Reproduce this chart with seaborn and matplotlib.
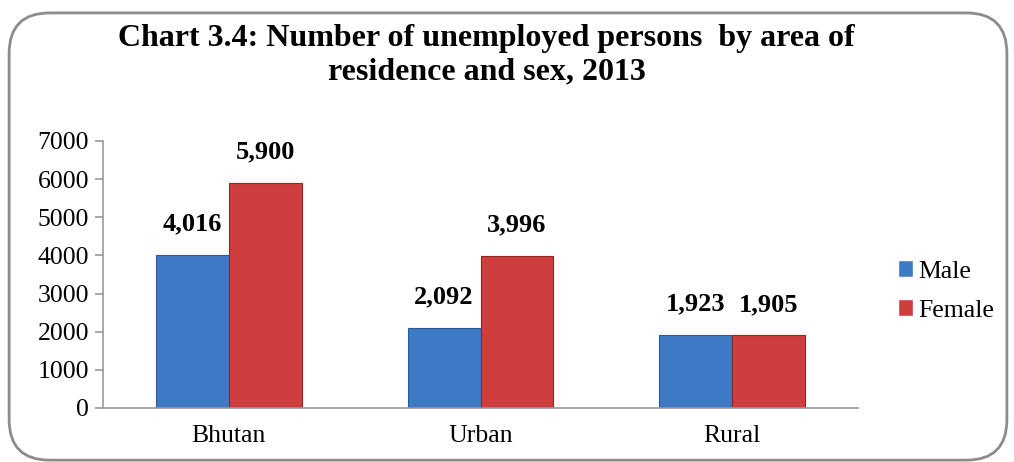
import matplotlib
matplotlib.use("Agg")
import matplotlib.pyplot as plt
import seaborn as sns
import pandas as pd
from matplotlib.patches import FancyBboxPatch

areas = ["Bhutan", "Urban", "Rural"]
male = [4016, 2092, 1923]
female = [5900, 3996, 1905]
series = ["Male", "Female"]
title = "Chart 3.4: Number of unemployed persons  by area of\nresidence and sex, 2013"

df = pd.DataFrame({
    "Area": areas * 2,
    "Sex": ["Male"] * 3 + ["Female"] * 3,
    "Value": male + female,
})

sns.set_theme(style="white")
plt.rcParams['font.family'] = ['Liberation Serif', 'DejaVu Serif']
plt.rcParams['text.color'] = 'black'
plt.rcParams['xtick.color'] = 'black'
plt.rcParams['ytick.color'] = 'black'

fig = plt.figure(figsize=(10.14, 4.62), dpi=100)
# rounded frame
frame = FancyBboxPatch((0.009, 0.004), 0.984, 0.968, boxstyle="round,pad=0,rounding_size=0.04",
                       transform=fig.transFigure, facecolor="none", edgecolor="#8c8c8c",
                       linewidth=2, mutation_aspect=1014/462, zorder=5)
fig.patches.append(frame)

ax = fig.add_axes([103/1014, 1 - 408/462, 755/1014, 267/462])
ax.set_facecolor("none")
palette = {"Male": "#3e79c6", "Female": "#cf3e3e"}
sns.barplot(data=df, x="Area", y="Value", hue="Sex", order=areas, hue_order=series,
            palette=palette, width=0.58, ax=ax, saturation=1, edgecolor=None)
for i, cont in enumerate(ax.containers):
    ec = "#2c5a94" if i == 0 else "#8f2424"
    for p in cont:
        p.set_edgecolor(ec)
        p.set_linewidth(0.8)
    ax.bar_label(cont, labels=[f"{v:,.0f}" for v in cont.datavalues], padding=14,
                 fontsize=19, fontweight="bold")

ax.set_ylim(0, 7000)
ax.set_yticks(range(0, 7001, 1000))
ax.set_xlim(-0.5, 2.5)
ax.set_xlabel("")
ax.set_ylabel("")
ax.tick_params(axis="y", labelsize=18.5, length=6, width=1.2, left=True, color="#999999", pad=4)
ax.tick_params(axis="x", labelsize=18.5, length=0, pad=12)
for s in ["top", "right"]:
    ax.spines[s].set_visible(False)
for s in ["left", "bottom"]:
    ax.spines[s].set_color("#999999")
    ax.spines[s].set_linewidth(1.2)

leg = ax.legend(loc="center left", bbox_to_anchor=(898 / 1014, 1 - 291 / 462),
                bbox_transform=fig.transFigure, frameon=False, borderaxespad=0, borderpad=0,
                fontsize=18.5, handlelength=0.6, handleheight=0.6, handletextpad=0.2,
                labelspacing=0.65)

fig.text(0.48, 1 - 55 / 462, title, ha="center", va="center", fontsize=23,
         fontweight="bold", linespacing=1.2)

fig.savefig("out.png", dpi=100)
